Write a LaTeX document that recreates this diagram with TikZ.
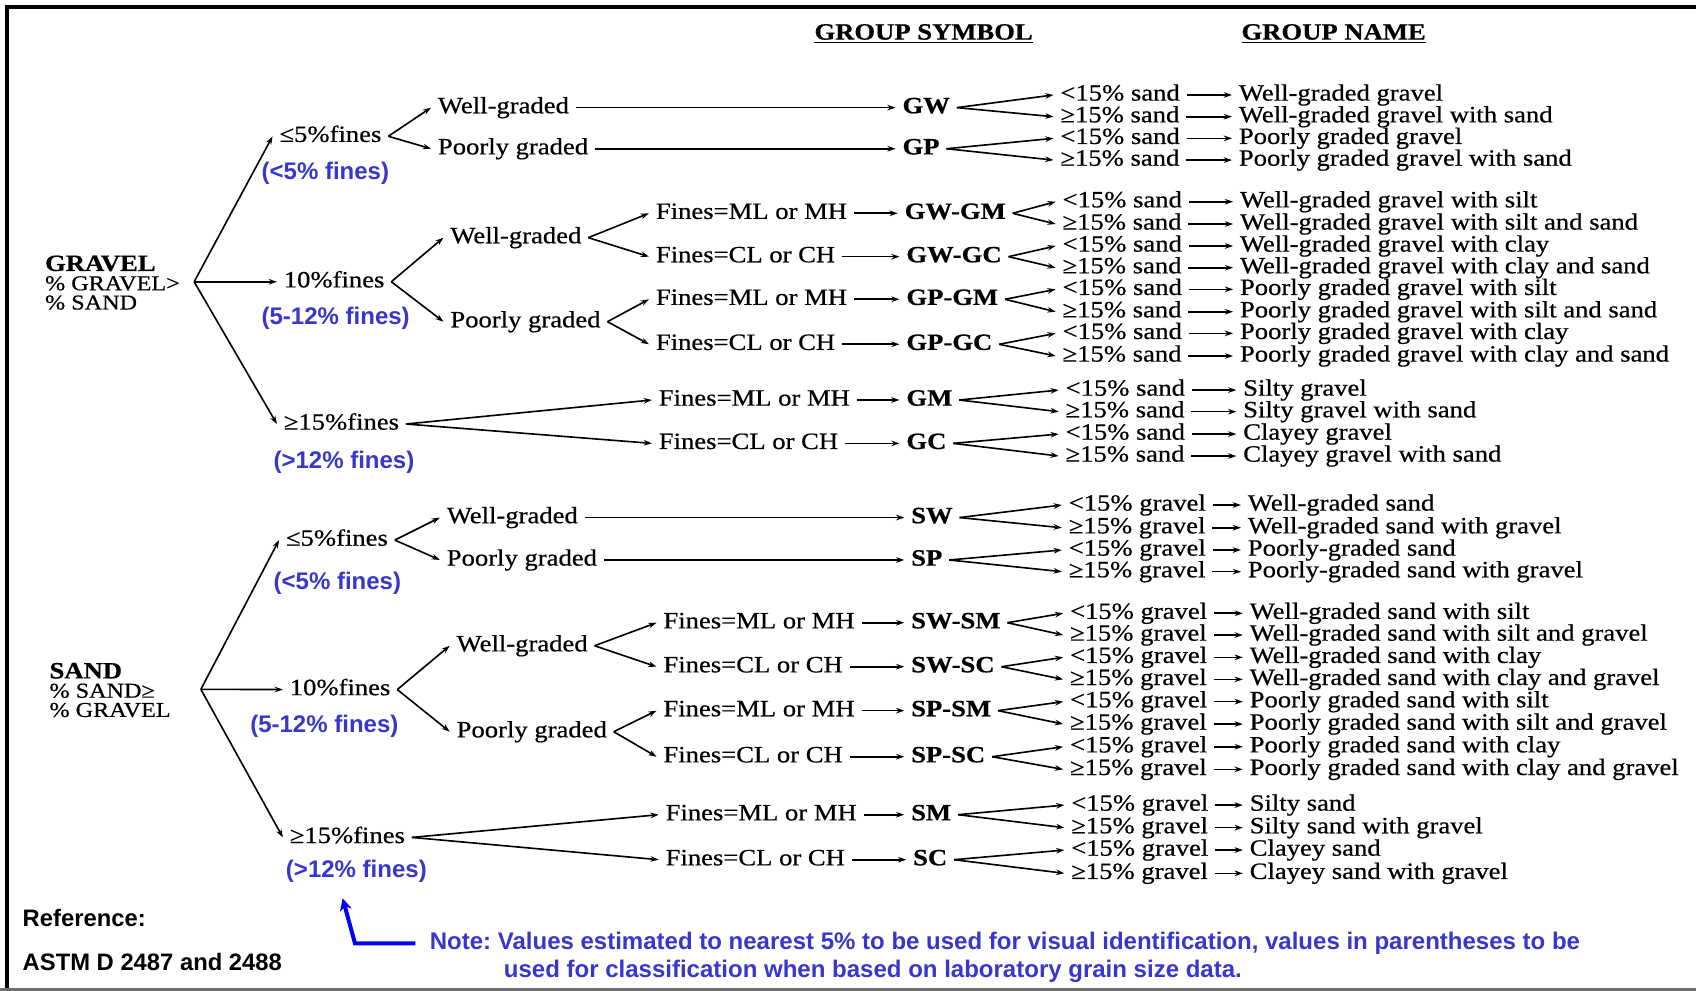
\documentclass[tikz,border=0pt]{standalone}
\usepackage{fontspec}
\setmainfont{Liberation Serif}[FakeStretch=1.14,FakeBold=0.6]
\newfontfamily\sansfam{Liberation Sans}
\usetikzlibrary{arrows.meta}
\definecolor{noteblue}{RGB}{55,55,205}
\definecolor{framegray}{RGB}{110,110,110}
\newcommand\mainsz{\fontsize{10.8}{8.9}\selectfont}
\newcommand\lblsz{\fontsize{9.8}{8.9}\selectfont}
\frenchspacing
\begin{document}
\begin{tikzpicture}[x=0.5pt,y=-0.5pt,
  txt/.style={font=\mainsz, inner xsep=3pt, inner ysep=0.5pt, text height=6.8pt, text depth=1.6pt, anchor=west, xshift=-3pt},
  sym/.style={txt, font=\mainsz\bfseries},
  lbl/.style={font=\lblsz, align=left, anchor=west, inner sep=0pt},
  blu/.style={font=\sansfam\bfseries\fontsize{11.1}{12}\selectfont, text=noteblue, anchor=west, inner xsep=0pt, inner ysep=1pt},
  refs/.style={font=\sansfam\bfseries\fontsize{11}{12}\selectfont, anchor=west, inner xsep=0pt},
  arr/.style={line width=0.75pt, -{Stealth[length=3.8pt,width=2.6pt]}},
  notearrow/.style={line width=1.85pt, draw={rgb,255:red,0;green,0;blue,255}, -{Stealth[length=5.5pt,width=5.5pt,inset=1.5pt]}}
  ]
\useasboundingbox (0,0) rectangle (1568,916);
\fill[white] (0,0) rectangle (1568,916);
% frame
\draw[line width=1.85pt] (6.5,916) -- (6.5,6.5) -- (1568,6.5);
\draw[framegray, line width=1.2pt] (0,914.8) -- (1568,914.8);

% headers
\node[sym] (hsym) at (752.6,31.4) {\underline{GROUP SYMBOL}};
\node[sym] (hname) at (1147.4,31.4) {\underline{GROUP NAME}};

% ================= GRAVEL =================
\node[lbl] (gravel) at (41.3,261.3) {\textbf{\mainsz GRAVEL}\\\% GRAVEL>\\\% SAND};
\coordinate (gb) at (179.5,260.5);
\node[txt] (g5) at (258,126) {≤5\%fines};
\node[blu] (g5b) at (241.5,160) {(<5\% fines)};
\node[txt] (g10) at (262,260.5) {10\%fines};
\node[blu] (g10b) at (241.5,294) {(5-12\% fines)};
\node[txt] (g15) at (262,392) {≥15\%fines};
\node[blu] (g15b) at (252.5,427) {(>12\% fines)};
\draw[arr] (gb) -- (g5.west);
\draw[arr] (gb) -- (g10.west);
\draw[arr] (gb) -- (g15.west);

\node[txt] (gwg) at (404.5,99.5) {Well-graded};
\node[txt] (gpg) at (404.5,137.5) {Poorly graded};
\draw[arr] (g5.east) -- (gwg.west);
\draw[arr] (g5.east) -- (gpg.west);
\node[sym] (GW) at (834,99.5) {GW};
\node[sym] (GP) at (834,137.5) {GP};
\draw[arr] (gwg.east) -- (GW.west);
\draw[arr] (gpg.east) -- (GP.west);

\node[txt] (gwg2) at (416,219.7) {Well-graded};
\node[txt] (gpg2) at (416,297.4) {Poorly graded};
\draw[arr] (g10.east) -- (gwg2.west);
\draw[arr] (g10.east) -- (gpg2.west);
\node[txt] (f1) at (606,197.2) {Fines=ML or MH};
\node[txt] (f2) at (606,237.3) {Fines=CL or CH};
\node[txt] (f3) at (606,276.7) {Fines=ML or MH};
\node[txt] (f4) at (606,318.3) {Fines=CL or CH};
\draw[arr] (gwg2.east) -- (f1.west);
\draw[arr] (gwg2.east) -- (f2.west);
\draw[arr] (gpg2.east) -- (f3.west);
\draw[arr] (gpg2.east) -- (f4.west);
\node[sym] (GWGM) at (836,197.2) {GW-GM};
\node[sym] (GWGC) at (837.6,237.3) {GW-GC};
\node[sym] (GPGM) at (837.6,276.7) {GP-GM};
\node[sym] (GPGC) at (837.6,318.3) {GP-GC};
\draw[arr] (f1.east) -- (GWGM.west);
\draw[arr] (f2.east) -- (GWGC.west);
\draw[arr] (f3.east) -- (GPGM.west);
\draw[arr] (f4.east) -- (GPGC.west);

\node[txt] (f5) at (608.7,369.8) {Fines=ML or MH};
\node[txt] (f6) at (608.7,409.9) {Fines=CL or CH};
\draw[arr] (g15.east) -- (f5.west);
\draw[arr] (g15.east) -- (f6.west);
\node[sym] (GM) at (837.6,369.8) {GM};
\node[sym] (GC) at (837.6,409.9) {GC};
\draw[arr] (f5.east) -- (GM.west);
\draw[arr] (f6.east) -- (GC.west);

% ================= SAND =================
\node[lbl] (sand) at (45.4,638) {\textbf{\mainsz SAND}\\\% SAND≥\\\% GRAVEL};
\coordinate (sb) at (185.7,637.3);
\node[txt] (s5) at (264,499.3) {≤5\%fines};
\node[blu] (s5b) at (252.6,539.3) {(<5\% fines)};
\node[txt] (s10) at (267.5,637.5) {10\%fines};
\node[blu] (s10b) at (231,671.9) {(5-12\% fines)};
\node[txt] (s15) at (267.5,774.2) {≥15\%fines};
\node[blu] (s15b) at (264,805.9) {(>12\% fines)};
\draw[arr] (sb) -- (s5.west);
\draw[arr] (sb) -- (s10.west);
\draw[arr] (sb) -- (s15.west);

\node[txt] (swg) at (412.7,478.5) {Well-graded};
\node[txt] (spg) at (412.7,517.7) {Poorly graded};
\draw[arr] (s5.east) -- (swg.west);
\draw[arr] (s5.east) -- (spg.west);
\node[sym] (SW) at (842,478.5) {SW};
\node[sym] (SP) at (842,517.7) {SP};
\draw[arr] (swg.east) -- (SW.west);
\draw[arr] (spg.east) -- (SP.west);

\node[txt] (swg2) at (421.8,597) {Well-graded};
\node[txt] (spg2) at (421.8,676.5) {Poorly graded};
\draw[arr] (s10.east) -- (swg2.west);
\draw[arr] (s10.east) -- (spg2.west);
\node[txt] (f7) at (613,575.7) {Fines=ML or MH};
\node[txt] (f8) at (613,616.4) {Fines=CL or CH};
\node[txt] (f9) at (613,657) {Fines=ML or MH};
\node[txt] (f10) at (613,699.6) {Fines=CL or CH};
\draw[arr] (swg2.east) -- (f7.west);
\draw[arr] (swg2.east) -- (f8.west);
\draw[arr] (spg2.east) -- (f9.west);
\draw[arr] (spg2.east) -- (f10.west);
\node[sym] (SWSM) at (842,575.7) {SW-SM};
\node[sym] (SWSC) at (842,616.4) {SW-SC};
\node[sym] (SPSM) at (842,657) {SP-SM};
\node[sym] (SPSC) at (842,699.6) {SP-SC};
\draw[arr] (f7.east) -- (SWSM.west);
\draw[arr] (f8.east) -- (SWSC.west);
\draw[arr] (f9.east) -- (SPSM.west);
\draw[arr] (f10.east) -- (SPSC.west);

\node[txt] (f11) at (615,753.2) {Fines=ML or MH};
\node[txt] (f12) at (615,794.8) {Fines=CL or CH};
\draw[arr] (s15.east) -- (f11.west);
\draw[arr] (s15.east) -- (f12.west);
\node[sym] (SM) at (842,753.2) {SM};
\node[sym] (SC) at (843.8,794.8) {SC};
\draw[arr] (f11.east) -- (SM.west);
\draw[arr] (f12.east) -- (SC.west);

% ================= right columns =================
\foreach \i/\y/\cx/\c/\nx/\n in {
 1/87.8/980/{<15\% sand}/1145/{Well-graded gravel},
 2/107.9/980/{≥15\% sand}/1145/{Well-graded gravel with sand},
 3/127.9/980/{<15\% sand}/1145/{Poorly graded gravel},
 4/148/980/{≥15\% sand}/1145/{Poorly graded gravel with sand},
 5/186.5/982/{<15\% sand}/1146/{Well-graded gravel with silt},
 6/207.1/982/{≥15\% sand}/1146/{Well-graded gravel with silt and sand},
 7/227.4/982/{<15\% sand}/1146/{Well-graded gravel with clay},
 8/247.5/982/{≥15\% sand}/1146/{Well-graded gravel with clay and sand},
 9/267.5/982/{<15\% sand}/1146/{Poorly graded gravel with silt},
 10/288.2/982/{≥15\% sand}/1146/{Poorly graded gravel with silt and sand},
 11/308.2/982/{<15\% sand}/1146/{Poorly graded gravel with clay},
 12/329.1/982/{≥15\% sand}/1146/{Poorly graded gravel with clay and sand},
 13/360.6/984.8/{<15\% sand}/1149/{Silty gravel},
 14/380.6/984.8/{≥15\% sand}/1149/{Silty gravel with sand},
 15/401.3/984.8/{<15\% sand}/1149/{Clayey gravel},
 16/421.6/984.8/{≥15\% sand}/1149/{Clayey gravel with sand},
 17/466.9/987.7/{<15\% gravel}/1153.3/{Well-graded sand},
 18/487.9/987.7/{≥15\% gravel}/1153.3/{Well-graded sand with gravel},
 19/508.5/987.7/{<15\% gravel}/1153.3/{Poorly-graded sand},
 20/528.5/987.7/{≥15\% gravel}/1153.3/{Poorly-graded sand with gravel},
 21/567/988.9/{<15\% gravel}/1155/{Well-graded sand with silt},
 22/587.1/988.9/{≥15\% gravel}/1155/{Well-graded sand with silt and gravel},
 23/607.7/988.9/{<15\% gravel}/1155/{Well-graded sand with clay},
 24/628.1/988.9/{≥15\% gravel}/1155/{Well-graded sand with clay and gravel},
 25/648.7/988.9/{<15\% gravel}/1155/{Poorly graded sand with silt},
 26/669.4/988.9/{≥15\% gravel}/1155/{Poorly graded sand with silt and gravel},
 27/690.4/988.9/{<15\% gravel}/1155/{Poorly graded sand with clay},
 28/711.3/988.9/{≥15\% gravel}/1155/{Poorly graded sand with clay and gravel},
 29/744.3/990/{<15\% gravel}/1155/{Silty sand},
 30/765.2/990/{≥15\% gravel}/1155/{Silty sand with gravel},
 31/785.9/990/{<15\% gravel}/1155/{Clayey sand},
 32/807.4/990/{≥15\% gravel}/1155/{Clayey sand with gravel}}
{
  \node[txt] (c\i) at (\cx,\y) {\c};
  \node[txt] (n\i) at (\nx,\y) {\n};
  \draw[arr] (c\i.east) -- (n\i.west);
}
\foreach \s/\a/\b in {GW/1/2, GP/3/4, GWGM/5/6, GWGC/7/8, GPGM/9/10, GPGC/11/12, GM/13/14, GC/15/16,
  SW/17/18, SP/19/20, SWSM/21/22, SWSC/23/24, SPSM/25/26, SPSC/27/28, SM/29/30, SC/31/32}
{
  \draw[arr] (\s.east) -- (c\a.west);
  \draw[arr] (\s.east) -- (c\b.west);
}

% ================= notes =================
\node[refs] (ref1) at (20.6,849) {Reference:};
\node[refs] (ref2) at (20.6,889) {ASTM D 2487 and 2488};
\node[blu, inner xsep=6.5pt, xshift=-6.5pt] (note1) at (397,872.2) {Note: Values estimated to nearest 5\% to be used for visual identification, values in parentheses to be};
\node[blu] (note2) at (465.5,898.4) {used for classification when based on laboratory grain size data.};
\coordinate (ncorner) at (328.2,872.2);
\coordinate (ntip) at (316.8,830.5);
\draw[notearrow] (note1.west) -- (ncorner) -- (ntip);
\end{tikzpicture}
\end{document}
